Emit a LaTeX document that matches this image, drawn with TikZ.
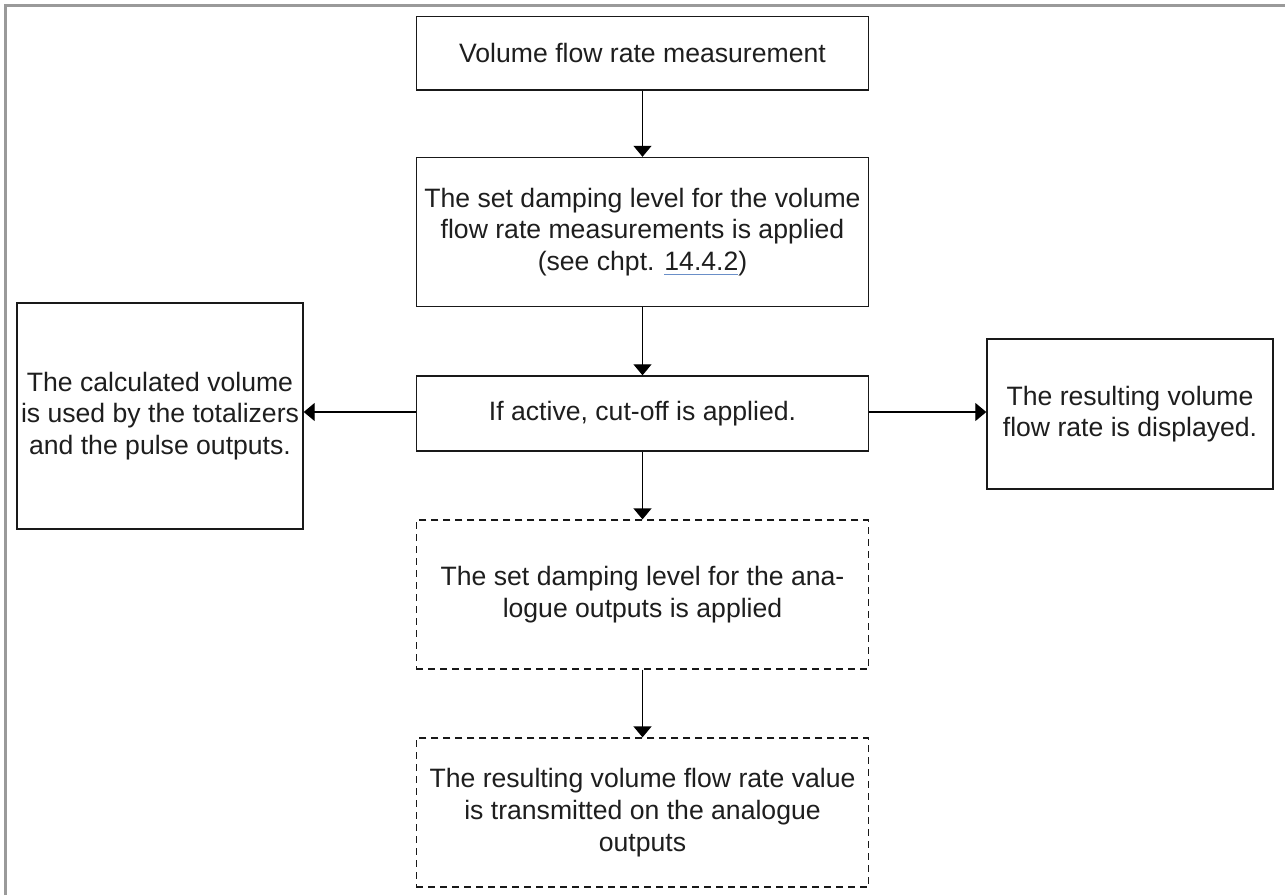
\documentclass[tikz,border=0pt]{standalone}
\usepackage{fontspec}
\setmainfont{Liberation Sans}
\usetikzlibrary{arrows.meta}
\definecolor{txt}{HTML}{1E1E1E}
\definecolor{framegray}{HTML}{9A9A9A}
\definecolor{linkblue}{HTML}{6A8FC8}
\newcommand\mylinkul[1]{\setbox0\hbox{#1}\rlap{\color{linkblue}\rule[-4.6pt]{\wd0}{1.6pt}}\box0}
\begin{document}
\begin{tikzpicture}[x=1pt,y=-1pt,
  box/.style={draw=black!90, line width=1.4pt, rectangle, inner sep=0pt,
    align=center, text=txt, font=\fontsize{26.6}{31.7}\selectfont},
  dbox/.style={box, dash pattern=on 7pt off 5pt, line width=1.3pt},
  arr/.style={draw=black, line width=1.3pt, -{Triangle[width=18pt,length=11pt]}}]
\useasboundingbox (0,0) rectangle (1285,895);
\fill[white] (0,0) rectangle (1285,895);
\draw[framegray, line width=3pt] (5.5,895) -- (5.5,5) -- (1285,5);

\node[box, minimum width=452.5pt, minimum height=73.5pt] (b1) at (642.5,53.3)
  {Volume flow rate measurement};
\node[box, minimum width=452.5pt, minimum height=149pt] (b2) at (642.5,232)
  {The set damping level for the volume\\flow rate measurements is applied\\(see chpt. \mylinkul{14.4.2})};
\node[box, minimum width=452.5pt, minimum height=75pt] (b3) at (642.5,413.5)
  {If active, cut-off is applied.};
\node[dbox, minimum width=452.5pt, minimum height=149pt] (d1) at (642.5,594.5)
  {The set damping level for the ana-\\logue outputs is applied};
\node[dbox, minimum width=452.5pt, minimum height=149pt] (d2) at (642.5,812.5)
  {The resulting volume flow rate value\\is transmitted on the analogue\\outputs};
\node[box, minimum width=286pt, minimum height=226pt] (lb) at (160,416)
  {The calculated volume\\is used by the totalizers\\and the pulse outputs.};
\node[box, minimum width=286pt, minimum height=150pt] (rb) at (1130,414)
  {The resulting volume\\flow rate is displayed.};

\draw[arr] (b1.south) -- (b2.north);
\draw[arr] (b2.south) -- (b3.north);
\draw[arr] (b3.south) -- (d1.north);
\draw[arr] (d1.south) -- (d2.north);
\draw[arr] ([yshift=1.5pt]b3.west) -- ([yshift=1.5pt]lb.east |- b3.west);
\draw[arr] ([yshift=1.5pt]b3.east) -- ([yshift=1.5pt]rb.west |- b3.east);
\end{tikzpicture}
\end{document}
